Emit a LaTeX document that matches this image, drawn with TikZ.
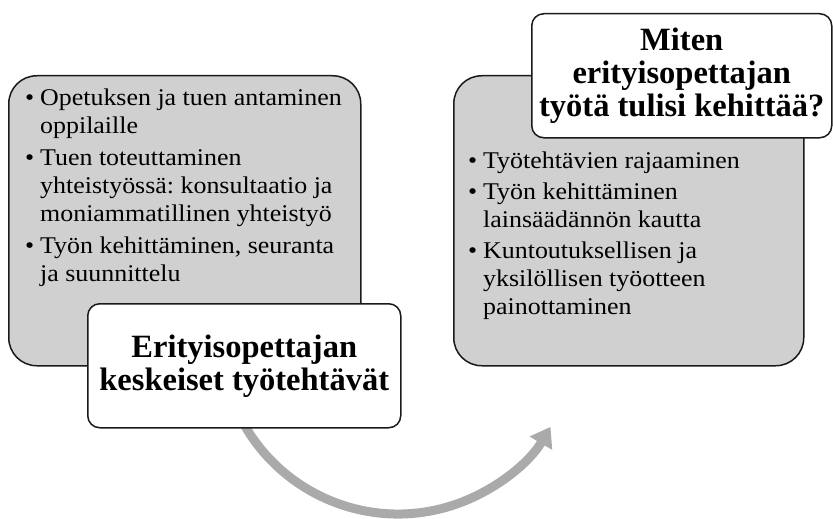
\documentclass[tikz,border=0pt]{standalone}
\usepackage{fontspec}
\setmainfont{Liberation Serif}
\newfontfamily\bodyfont{Liberation Serif}[FakeStretch=1.08]
\usetikzlibrary{arrows.meta}
\definecolor{boxgray}{HTML}{D0D0D0}
\definecolor{arrowgray}{HTML}{AAAAAA}
\definecolor{edgecol}{HTML}{1A1A1A}
\newcommand{\bul}{\makebox[15pt][l]{\textbullet}}
\newcommand{\ind}{\hspace*{15pt}}
\frenchspacing
\begin{document}
\begin{tikzpicture}[x=1pt,y=-1pt,
  graybox/.style={draw=edgecol, fill=boxgray, line width=1.5pt, rounded corners=28pt, inner sep=0pt},
  whitebox/.style={draw=edgecol, fill=white, line width=1.5pt, rounded corners=12pt, inner sep=0pt, align=center,
    font=\bfseries\fontsize{32.5}{33}\selectfont},
  bullettext/.style={anchor=north west, inner sep=0pt, align=left, font=\bodyfont\fontsize{24}{28}\selectfont}]
\useasboundingbox (0,0) rectangle (833,519);
% arrow
\coordinate (C) at (398,337);
\draw[arrowgray, line width=9pt, -{Triangle[length=19pt,width=25pt]}]
  ([shift={(160:177)}]C) arc[start angle=160, end angle=30.5, radius=177];
% left
\node[graybox, anchor=north west, minimum width=352pt, minimum height=290pt] (L) at (8,75) {};
\node[bullettext] (Lt) at (25,88.6) {\bul Opetuksen ja tuen antaminen\\
\ind oppilaille\\[4pt]
\bul Tuen toteuttaminen\\
\ind yhteistyössä: konsultaatio ja\\
\ind moniammatillinen yhteistyö\\[4pt]
\bul Työn kehittäminen, seuranta\\
\ind ja suunnittelu};
\node[whitebox, anchor=north west, minimum width=313pt, minimum height=124pt] (LW) at (87,303)
  {Erityisopettajan\\keskeiset työtehtävät};
% right
\node[graybox, anchor=north west, minimum width=350pt, minimum height=290pt] (R) at (453,75) {};
\node[bullettext] (Rt) at (468,151.6) {\bul Työtehtävien rajaaminen\\[3pt]
\bul Työn kehittäminen\\
\ind lainsäädännön kautta\\[3pt]
\bul Kuntoutuksellisen ja\\
\ind yksilöllisen työotteen\\
\ind painottaminen};
\node[whitebox, anchor=north west, minimum width=300pt, minimum height=124pt] (RW) at (531,13)
  {Miten\\erityisopettajan\\työtä tulisi kehittää?};
\end{tikzpicture}
\end{document}
